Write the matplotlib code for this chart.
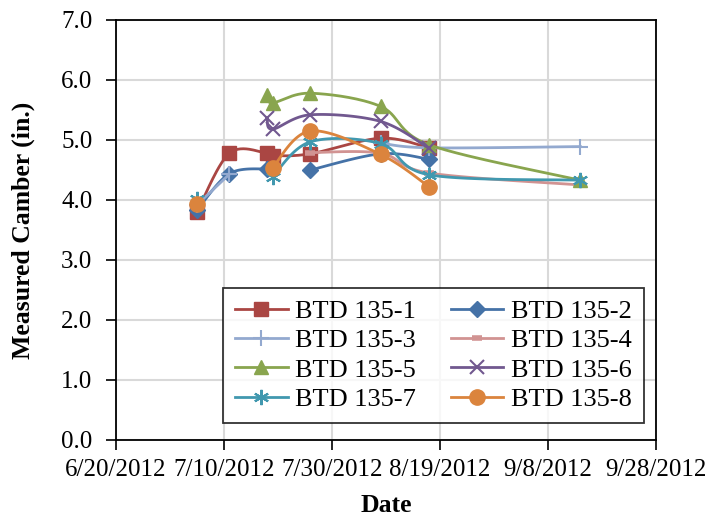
import numpy as np
import pandas as pd
import matplotlib
matplotlib.use('Agg')
import matplotlib.pyplot as plt
import matplotlib.dates as mdates

plt.rcParams['font.family'] = ['Liberation Serif', 'DejaVu Serif']

# measurement dates
dates = ['2012-07-05', '2012-07-11', '2012-07-18', '2012-07-19',
         '2012-07-26', '2012-08-08', '2012-08-17', '2012-09-14']
# camber values (in.), None = not measured (gap in the line)
btd1 = [3.80, 4.78, 4.78, 4.74, 4.77, 5.03, 4.87, None]
btd2 = [3.83, 4.44, 4.52, None, 4.50, 4.77, 4.68, None]
btd3 = [3.92, 4.43, None, None, None, 4.95, 4.87, 4.89]
btd4 = [3.90, None, None, None, 4.79, 4.78, 4.45, 4.25]
btd5 = [None, None, 5.75, 5.62, 5.78, 5.56, 4.92, 4.33]
btd6 = [None, None, 5.36, 5.18, 5.42, 5.31, 4.86, None]
btd7 = [4.02, None, None, 4.39, 4.97, 4.94, 4.42, 4.33]
btd8 = [3.94, None, None, 4.54, 5.15, 4.76, 4.22, None]

names = ['BTD 135-1', 'BTD 135-2', 'BTD 135-3', 'BTD 135-4',
         'BTD 135-5', 'BTD 135-6', 'BTD 135-7', 'BTD 135-8']
series = [btd1, btd2, btd3, btd4, btd5, btd6, btd7, btd8]
colors = ['#AA4643', '#4572A7', '#93A9CF', '#D19392',
          '#89A54E', '#71588F', '#4198AF', '#DB843D']
markers = ['s', 'D', '+', '_', '^', 'x', (6, 2, 0), 'o']
msizes = [10, 8, 11, 7, 10, 10, 11, 11]
mews = [1, 1, 1.5, 4, 1, 1.5, 1.5, 1]

x_all = mdates.date2num(pd.to_datetime(dates))


def smooth(x, y, n=30):
    # excel-like smoothed line (catmull-rom bezier)
    if len(x) < 2:
        return np.array(x), np.array(y)
    P = np.column_stack([x, y])
    P = np.vstack([P[0], P, P[-1]])
    out = []
    t = np.linspace(0, 1, n)[:, None]
    for i in range(1, len(P) - 2):
        p0, p3 = P[i], P[i + 1]
        c1 = p0 + (P[i + 1] - P[i - 1]) / 6
        c2 = p3 - (P[i + 2] - P[i]) / 6
        b = ((1 - t) ** 3 * p0 + 3 * (1 - t) ** 2 * t * c1
             + 3 * (1 - t) * t ** 2 * c2 + t ** 3 * p3)
        out.append(b)
    out = np.vstack(out)
    return out[:, 0], out[:, 1]


fig = plt.figure(figsize=(7.13, 5.17), dpi=100)
ax = fig.add_axes([116 / 713, 1 - 440 / 517, 540 / 713, 420 / 517])

handles = []
for k, (vals, name) in enumerate(zip(series, names)):
    v = np.array([np.nan if a is None else a for a in vals], dtype=float)
    ok = ~np.isnan(v)
    # split into contiguous runs
    runs = []
    cur = []
    for i in range(len(v)):
        if ok[i]:
            cur.append(i)
        else:
            if cur:
                runs.append(cur)
            cur = []
    if cur:
        runs.append(cur)
    for r in runs:
        sx, sy = smooth(x_all[r], v[r])
        ax.plot(sx, sy, color=colors[k], lw=2.0, zorder=3 + k)
    ax.plot(x_all[ok], v[ok], ls='none', marker=markers[k], ms=msizes[k],
            mew=mews[k], color=colors[k], zorder=3 + k)
    # legend proxy
    h, = ax.plot([], [], color=colors[k], lw=2.0, marker=markers[k],
                 ms=msizes[k], mew=mews[k], label=name)
    handles.append(h)

x0 = mdates.date2num(pd.Timestamp('2012-06-20'))
ticks = x0 + np.arange(0, 101, 20)
ax.set_xlim(ticks[0], ticks[-1])
ax.set_xticks(ticks)
ax.set_xticklabels([f'{d.month}/{d.day}/{d.year}' for d in mdates.num2date(ticks)])
ax.set_ylim(0, 7)
ax.set_yticks(np.arange(0, 7.01, 1))
ax.set_yticklabels([f'{t:.1f}' for t in np.arange(0, 7.01, 1)])
ax.grid(True, color='#D9D9D9', lw=1.5, zorder=0)
ax.set_axisbelow(True)
for s in ax.spines.values():
    s.set_linewidth(1.3)
ax.tick_params(labelsize=18, direction='out', length=7, width=1.2)
ax.tick_params(axis='x', pad=7)
ax.tick_params(axis='y', pad=10)

ax.set_xlabel('Date', fontsize=18.5, fontweight='bold', labelpad=9)
ax.set_ylabel('Measured Camber (in.)', fontsize=18.5, fontweight='bold', labelpad=19)

# row-wise legend order like excel
order = [0, 2, 4, 6, 1, 3, 5, 7]
leg = ax.legend([handles[i] for i in order], [names[i] for i in order],
                ncol=2, loc='lower left', bbox_to_anchor=(0.198, 0.041, 0.78, 0.323),
                mode='expand', borderaxespad=0, fontsize=19, frameon=True,
                fancybox=False, edgecolor='black', handlelength=2.0,
                handletextpad=0.3, labelspacing=0.22, borderpad=0.45,
                columnspacing=1.2)
leg.get_frame().set_linewidth(1.3)
leg.set_zorder(20)

fig.savefig('out.png', dpi=100)
